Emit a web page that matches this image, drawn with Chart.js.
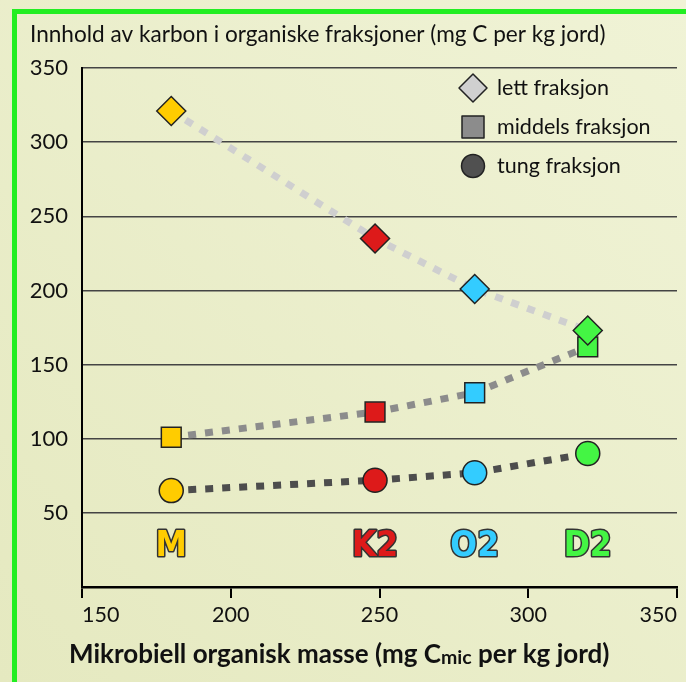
<!DOCTYPE html>
<html lang="no">
<head>
<meta charset="UTF-8">
<title>Karbon i organiske fraksjoner</title>
<script src="https://cdn.jsdelivr.net/npm/chart.js"></script>
<style>
  html, body { margin: 0; padding: 0; background: #eaedc8; }
  canvas { display: block; }
</style>
</head>
<body>
<canvas id="graf" width="686" height="682"></canvas>
<script>
// data lest av figuren
const sites = ['M', 'K2', 'O2', 'D2'];
const biomass = [180, 248.5, 282, 320];
const lett = [321, 235, 201, 173];
const middels = [101, 118, 131, 162];
const tung = [65, 72, 77, 90];
const yTicks = [50, 100, 150, 200, 250, 300, 350];
const xTicks = [150, 200, 250, 300, 350];

const siteColors = ['#ffcc00', '#dd1a1a', '#33ccff', '#44f544'];
const FONT = 'Lato, "Open Sans", sans-serif';

function pts(vals) {
  return vals.map((v, i) => ({ x: biomass[i], y: v }));
}

function series(label, vals, lineColor, shape, r) {
  return {
    label: label,
    data: pts(vals),
    borderColor: lineColor,
    borderWidth: 7,
    borderDash: [8, 9],
    borderCapStyle: 'butt',
    tension: 0,
    pointStyle: shape,
    pointRadius: r,
    pointHoverRadius: r,
    pointBackgroundColor: siteColors,
    pointBorderColor: '#222',
    pointBorderWidth: 1.5
  };
}

function marker(ctx, shape, x, y, fill) {
  ctx.beginPath();
  if (shape === 'rectRot') {
    ctx.moveTo(x, y - 14); ctx.lineTo(x + 14, y); ctx.lineTo(x, y + 14); ctx.lineTo(x - 14, y);
    ctx.closePath();
  } else if (shape === 'rect') {
    ctx.rect(x - 11, y - 11, 22, 22);
  } else {
    ctx.arc(x, y, 11.5, 0, Math.PI * 2);
  }
  ctx.fillStyle = fill;
  ctx.fill();
  ctx.lineWidth = 1.5;
  ctx.strokeStyle = '#222';
  ctx.stroke();
}

const decor = {
  id: 'decor',
  beforeDraw(chart) {
    const ctx = chart.ctx;
    ctx.save();
    const g = ctx.createLinearGradient(0, 682, 686, 0);
    g.addColorStop(0, '#e5e9c0');
    g.addColorStop(1, '#f0f3d6');
    ctx.fillStyle = g;
    ctx.fillRect(0, 0, 686, 682);
    // grønn ramme
    ctx.fillStyle = '#22ee22';
    ctx.fillRect(12, 9, 5, 673);
    ctx.fillRect(12, 9, 674, 5);
    ctx.restore();
  },
  afterDatasetsDraw(chart) {
    const ctx = chart.ctx;
    const xs = chart.scales.x, ys = chart.scales.y;
    ctx.save();

    // stedsnavn
    ctx.font = 'bold 35px "DejaVu Sans Condensed", "DejaVu Sans", sans-serif';
    ctx.textAlign = 'center';
    ctx.textBaseline = 'middle';
    ctx.lineJoin = 'round';
    sites.forEach((s, i) => {
      const px = xs.getPixelForValue(biomass[i]);
      const py = ys.getPixelForValue(27);
      ctx.lineWidth = 3;
      ctx.strokeStyle = '#333';
      ctx.strokeText(s, px, py);
      ctx.fillStyle = siteColors[i];
      ctx.fillText(s, px, py);
    });

    // tegnforklaring
    const items = [
      ['lett fraksjon', 'rectRot', '#d0d0d0', 88],
      ['middels fraksjon', 'rect', '#8c8c8c', 127],
      ['tung fraksjon', 'circle', '#505050', 166]
    ];
    ctx.font = '21.5px ' + FONT;
    ctx.textAlign = 'left';
    items.forEach(it => {
      marker(ctx, it[1], 473, it[3], it[2]);
      ctx.fillStyle = '#111';
      ctx.fillText(it[0], 497, it[3]);
    });

    // titler
    ctx.fillStyle = '#111';
    ctx.font = '22.6px ' + FONT;
    ctx.textBaseline = 'middle';
    ctx.fillText('Innhold av karbon i organiske fraksjoner (mg C per kg jord)', 30, 35);

    ctx.font = 'bold 26px ' + FONT;
    let x = 69;
    const a = 'Mikrobiell organisk masse (mg C';
    ctx.fillText(a, x, 655);
    x += ctx.measureText(a).width;
    ctx.font = 'bold 19.5px ' + FONT;
    ctx.fillText('mic', x, 658);
    x += ctx.measureText('mic').width;
    ctx.font = 'bold 26px ' + FONT;
    ctx.fillText(' per kg jord)', x, 655);

    ctx.restore();
  }
};

const ctx = document.getElementById('graf').getContext('2d');
new Chart(ctx, {
  type: 'line',
  data: {
    datasets: [
      series('lett fraksjon', lett, '#cfcfcf', 'rectRot', 14.5),
      series('middels fraksjon', middels, '#8c8c8c', 'rect', 14),
      series('tung fraksjon', tung, '#4d4d4d', 'circle', 12)
    ]
  },
  options: {
    responsive: false,
    animation: false,
    layout: { autoPadding: false, padding: { top: 68, right: 9, left: 0, bottom: 0 } },
    plugins: {
      legend: { display: false },
      title: { display: false },
      tooltip: { enabled: false }
    },
    scales: {
      x: {
        type: 'linear',
        min: 150,
        max: 350,
        afterFit: s => { s.height = 95; },
        afterBuildTicks: s => { s.ticks = xTicks.map(v => ({ value: v })); },
        border: { display: true, color: '#000', width: 2.5 },
        grid: { drawOnChartArea: false, drawTicks: true, tickLength: 11, color: '#000', lineWidth: 2 },
        ticks: { align: 'inner', padding: 4, color: '#111', font: { family: FONT, size: 21.5 }, maxRotation: 0 }
      },
      y: {
        min: 0,
        max: 350,
        afterFit: s => { s.width = 82; },
        afterBuildTicks: s => { s.ticks = [0].concat(yTicks).map(v => ({ value: v })); },
        border: { display: true, color: '#000', width: 2 },
        grid: { color: '#444', lineWidth: 1.5, drawTicks: false },
        ticks: {
          padding: 14,
          color: '#111',
          font: { family: FONT, size: 22 },
          callback: v => (v === 0 ? '' : v)
        }
      }
    }
  },
  plugins: [decor]
});
</script>
</body>
</html>
